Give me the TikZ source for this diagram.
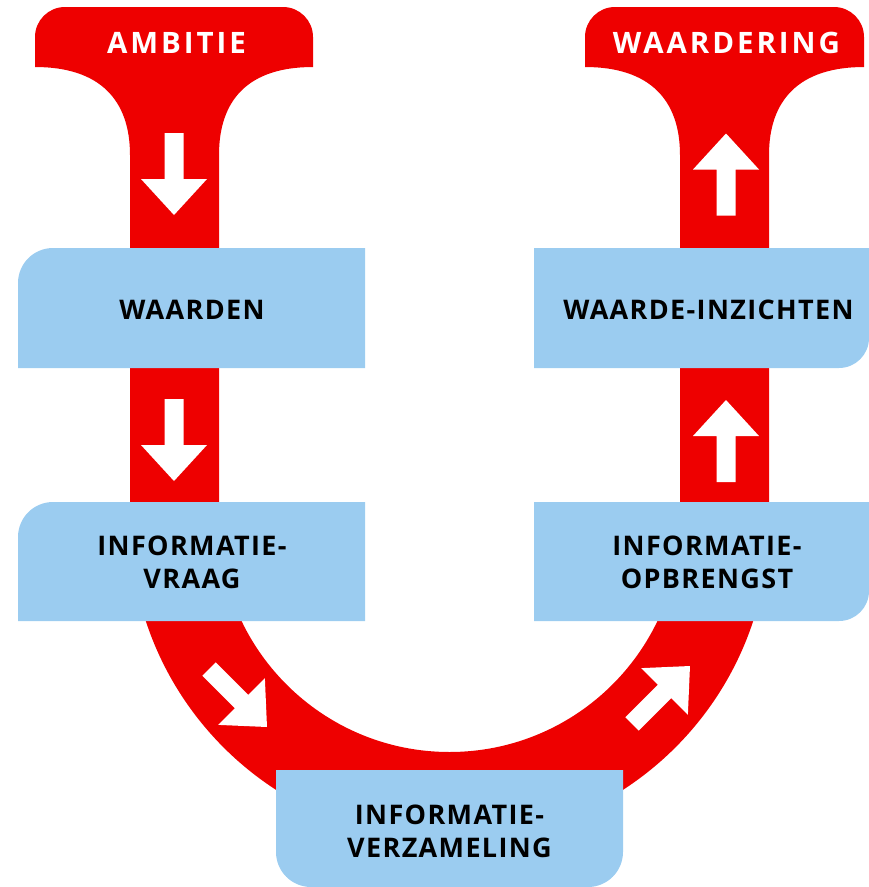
\documentclass[tikz,border=0pt]{standalone}
\usepackage{fontspec}
\setmainfont{Open Sans}
\newfontfamily\labfont[LetterSpace=5]{Open Sans}
\newfontfamily\headfont[LetterSpace=10]{Open Sans}
\definecolor{ured}{RGB}{238,0,0}
\definecolor{ublue}{RGB}{155,204,240}
\tikzset{
  redshape/.style={fill=ured, draw=none},
  bluebox/.style={fill=ublue, draw=none},
  whitelab/.style={text=white, font=\headfont\bfseries\fontsize{29.5}{34}\selectfont, inner sep=0pt},
  blacklab/.style={text=black, font=\labfont\bfseries\fontsize{27}{32.5}\selectfont, inner sep=0pt, align=center},
  blockarrow/.pic={
    \fill[white] (-41,-9.5) -- (5,-9.5) -- (5,-33) -- (41,0) -- (5,33) -- (5,9.5) -- (-41,9.5) -- cycle;
  }
}
\begin{document}
\begin{tikzpicture}[x=1pt,y=-1pt]
\useasboundingbox (0,0) rectangle (869,887);
% red U with two T-heads
\fill[redshape]
  (130,521.5) -- (130,155)
  .. controls (130,100) and (100,67) .. (35,67)
  -- (35,37) arc[start angle=180, end angle=270, radius=30]
  -- (283,7) arc[start angle=270, end angle=360, radius=30]
  -- (313,67)
  .. controls (248,67) and (219,100) .. (219,155)
  -- (219,521.5) arc[start angle=180, end angle=0, radius=230.5]
  -- (680,155)
  .. controls (680,100) and (650,67) .. (585,67)
  -- (585,37) arc[start angle=180, end angle=270, radius=30]
  -- (834,7) arc[start angle=270, end angle=360, radius=30]
  -- (864,67)
  .. controls (799,67) and (769,100) .. (769,155)
  -- (769,521.5) arc[start angle=0, end angle=180, radius=319.5]
  -- cycle;
% blue boxes
\fill[bluebox] (18,368) -- (18,283) arc[start angle=180, end angle=270, radius=35] -- (365,248) -- (365,368) -- cycle;
\fill[bluebox] (18,621) -- (18,537) arc[start angle=180, end angle=270, radius=35] -- (365,502) -- (365,621) -- cycle;
\fill[bluebox] (534,248) -- (869,248) -- (869,338) arc[start angle=0, end angle=90, radius=30] -- (534,368) -- cycle;
\fill[bluebox] (534,502) -- (869,502) -- (869,591) arc[start angle=0, end angle=90, radius=30] -- (534,621) -- cycle;
\fill[bluebox] (276,770) -- (623,770) -- (623,852) arc[start angle=0, end angle=90, radius=35] -- (311,887) arc[start angle=90, end angle=180, radius=35] -- cycle;
% block arrows
\pic[rotate=-90] (a1) at (174,174) {blockarrow};
\pic[rotate=-90] (a2) at (174,440) {blockarrow};
\pic[rotate=-45] (a3) at (238,698) {blockarrow};
\pic[rotate=45] (a4) at (661,695) {blockarrow};
\pic[rotate=90] (a5) at (726,441) {blockarrow};
\pic[rotate=90] (a6) at (726,174.5) {blockarrow};
% labels
\node[whitelab, anchor=base] (ambitie) at (176.5,53) {AMBITIE};
\node[whitelab, anchor=base] (waardering) at (726.5,53) {WAARDERING};
\node[blacklab, anchor=base] (waarden) at (192,319) {WAARDEN};
\node[blacklab, anchor=base] (inzichten) at (708.5,319) {WAARDE-INZICHTEN};
\node[blacklab] (vraag) at (192,562.5) {INFORMATIE-\\VRAAG};
\node[blacklab] (opbrengst) at (707,562.5) {INFORMATIE-\\OPBRENGST};
\node[blacklab] (verzameling) at (449.5,831.5) {INFORMATIE-\\VERZAMELING};
\end{tikzpicture}
\end{document}
